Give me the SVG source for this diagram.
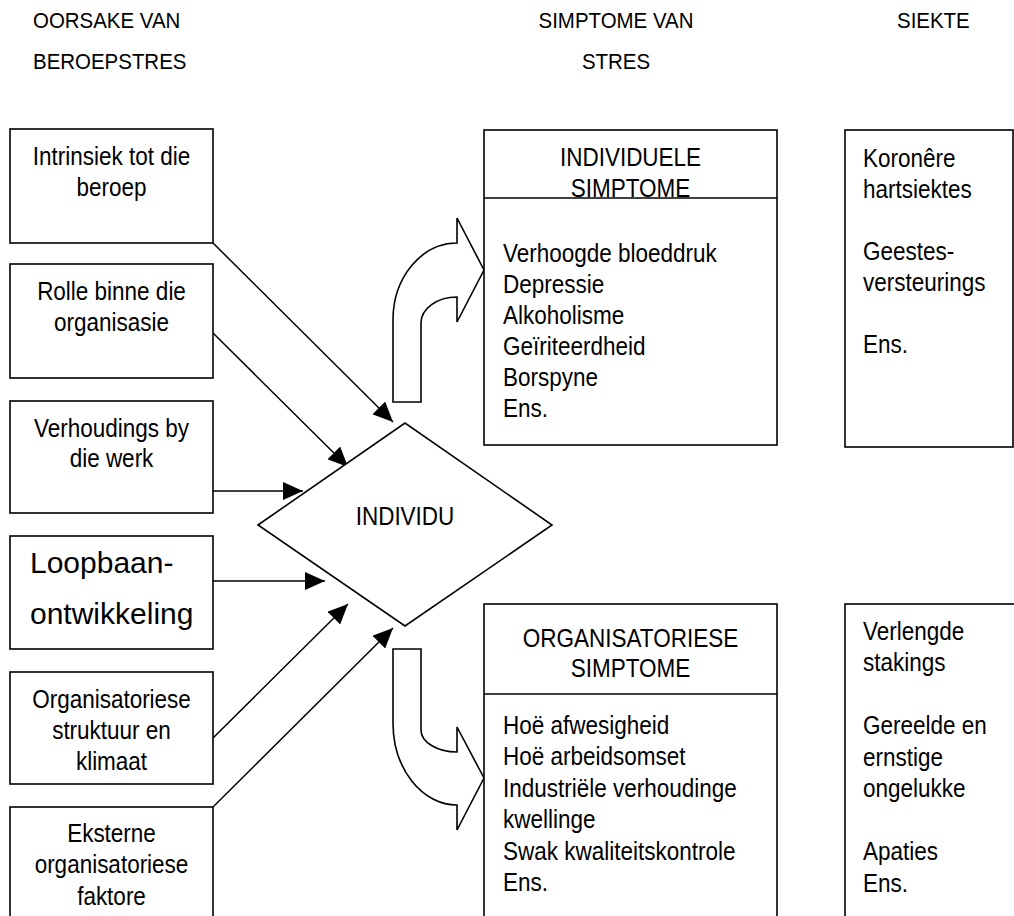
<svg xmlns="http://www.w3.org/2000/svg" width="1014" height="916" viewBox="0 0 1014 916">
<style>
.box{fill:#fff;stroke:#000;stroke-width:1.6}
.ln{fill:none;stroke:#000;stroke-width:1.5}
.t{font-family:"Liberation Sans",Arial,sans-serif;font-size:25px;fill:#000}
.h{font-family:"Liberation Sans",Arial,sans-serif;font-size:22px;fill:#000}
.big{font-family:"Liberation Sans",Arial,sans-serif;font-size:30px;fill:#000}
.c{text-anchor:middle}
</style>
<defs>
<marker id="ah" markerUnits="userSpaceOnUse" markerWidth="20" markerHeight="18" refX="20" refY="9" orient="auto">
<path d="M0,0 L20,9 L0,18 Z" fill="#000"/>
</marker>
</defs>
<rect width="1014" height="916" fill="#fff"/>

<g id="headers">
<text class="h" transform="translate(33,28) scale(0.93,1)"><tspan x="0">OORSAKE VAN</tspan><tspan x="0" dy="41">BEROEPSTRES</tspan></text>
<text class="h c" transform="translate(616,28) scale(0.93,1)"><tspan x="0">SIMPTOME VAN</tspan><tspan x="0" dy="41">STRES</tspan></text>
<text class="h" transform="translate(897,28) scale(0.93,1)">SIEKTE</text>
</g>

<g id="connectors">
<line class="ln" x1="213" y1="243" x2="393" y2="422" marker-end="url(#ah)"/>
<line class="ln" x1="213" y1="333" x2="348" y2="467" marker-end="url(#ah)"/>
<line class="ln" x1="213" y1="491" x2="303" y2="491" marker-end="url(#ah)"/>
<line class="ln" x1="213" y1="581" x2="325" y2="581" marker-end="url(#ah)"/>
<line class="ln" x1="213" y1="738" x2="348" y2="604" marker-end="url(#ah)"/>
<line class="ln" x1="213" y1="807" x2="393" y2="628" marker-end="url(#ah)"/>
<path id="curve-up" class="box" d="M393,402 L421,402 L421,323 A36,26 0 0 1 457,297 L457,322 L484,270 L457,218 L457,243 A64,77 0 0 0 393,320 Z"/>
<path id="curve-down" class="box" d="M393,649 L421,649 L421,730 A36,22 0 0 0 457,752 L457,727 L484,778 L457,830 L457,805 A64,82 0 0 1 393,723 Z"/>
</g>

<g id="n-intrinsiek">
<rect class="box" x="10" y="129" width="203" height="114"/>
<text class="t c" transform="translate(111.5,165) scale(0.9,1)"><tspan x="0">Intrinsiek tot die</tspan><tspan x="0" dy="31.5">beroep</tspan></text>
</g>
<g id="n-rolle">
<rect class="box" x="10" y="264" width="203" height="114"/>
<text class="t c" transform="translate(111.5,300) scale(0.9,1)"><tspan x="0">Rolle binne die</tspan><tspan x="0" dy="31">organisasie</tspan></text>
</g>
<g id="n-verhoudings">
<rect class="box" x="10" y="401" width="203" height="112"/>
<text class="t c" transform="translate(111.5,437) scale(0.9,1)"><tspan x="0">Verhoudings by</tspan><tspan x="0" dy="30">die werk</tspan></text>
</g>
<g id="n-loopbaan">
<rect class="box" x="10" y="536" width="203" height="113"/>
<text class="big" x="30" y="573">Loopbaan-</text>
<text class="big" x="30" y="624">ontwikkeling</text>
</g>
<g id="n-struktuur">
<rect class="box" x="10" y="672" width="203" height="112"/>
<text class="t c" transform="translate(111.5,708) scale(0.9,1)"><tspan x="0">Organisatoriese</tspan><tspan x="0" dy="31">struktuur en</tspan><tspan x="0" dy="31.5">klimaat</tspan></text>
</g>
<g id="n-eksterne">
<rect class="box" x="10" y="807" width="203" height="130"/>
<text class="t c" transform="translate(111.5,842) scale(0.9,1)"><tspan x="0">Eksterne</tspan><tspan x="0" dy="31.5">organisatoriese</tspan><tspan x="0" dy="31.5">faktore</tspan></text>
</g>

<g id="n-individu">
<polygon class="box" points="258,525 405,423 552,525 405,626"/>
<text class="t c" transform="translate(405,525) scale(0.9,1)">INDIVIDU</text>
</g>

<g id="n-individuele">
<rect class="box" x="484" y="130" width="293" height="315"/>
<text class="t c" transform="translate(630.5,166) scale(0.9,1)"><tspan x="0">INDIVIDUELE</tspan><tspan x="0" dy="31">SIMPTOME</tspan></text>
<line class="ln" x1="484" y1="198" x2="777" y2="198"/>
<text class="t" transform="translate(503,262) scale(0.9,1)"><tspan x="0">Verhoogde bloeddruk</tspan><tspan x="0" dy="31">Depressie</tspan><tspan x="0" dy="31">Alkoholisme</tspan><tspan x="0" dy="31">Geïriteerdheid</tspan><tspan x="0" dy="31">Borspyne</tspan><tspan x="0" dy="31">Ens.</tspan></text>
</g>

<g id="n-organisatoriese">
<rect class="box" x="484" y="604" width="293" height="330"/>
<text class="t c" transform="translate(630.5,647) scale(0.9,1)"><tspan x="0">ORGANISATORIESE</tspan><tspan x="0" dy="30">SIMPTOME</tspan></text>
<line class="ln" x1="484" y1="694" x2="777" y2="694"/>
<text class="t" transform="translate(503,734) scale(0.9,1)"><tspan x="0">Hoë afwesigheid</tspan><tspan x="0" dy="31.5">Hoë arbeidsomset</tspan><tspan x="0" dy="31.5">Industriële verhoudinge</tspan><tspan x="0" dy="31.5">kwellinge</tspan><tspan x="0" dy="31.5">Swak kwaliteitskontrole</tspan><tspan x="0" dy="31.5">Ens.</tspan></text>
</g>

<g id="n-siekte-ind">
<rect class="box" x="845" y="130" width="168" height="317"/>
<text class="t" transform="translate(863,167) scale(0.9,1)"><tspan x="0">Koronêre</tspan><tspan x="0" dy="31">hartsiektes</tspan><tspan x="0" dy="62">Geestes-</tspan><tspan x="0" dy="31">versteurings</tspan><tspan x="0" dy="62">Ens.</tspan></text>
</g>

<g id="n-siekte-org">
<rect class="box" x="845" y="604" width="180" height="330"/>
<text class="t" transform="translate(863,640) scale(0.9,1)"><tspan x="0">Verlengde</tspan><tspan x="0" dy="31.5">stakings</tspan><tspan x="0" dy="63">Gereelde en</tspan><tspan x="0" dy="31.5">ernstige</tspan><tspan x="0" dy="31.5">ongelukke</tspan><tspan x="0" dy="63">Apaties</tspan><tspan x="0" dy="31.5">Ens.</tspan></text>
</g>
</svg>
